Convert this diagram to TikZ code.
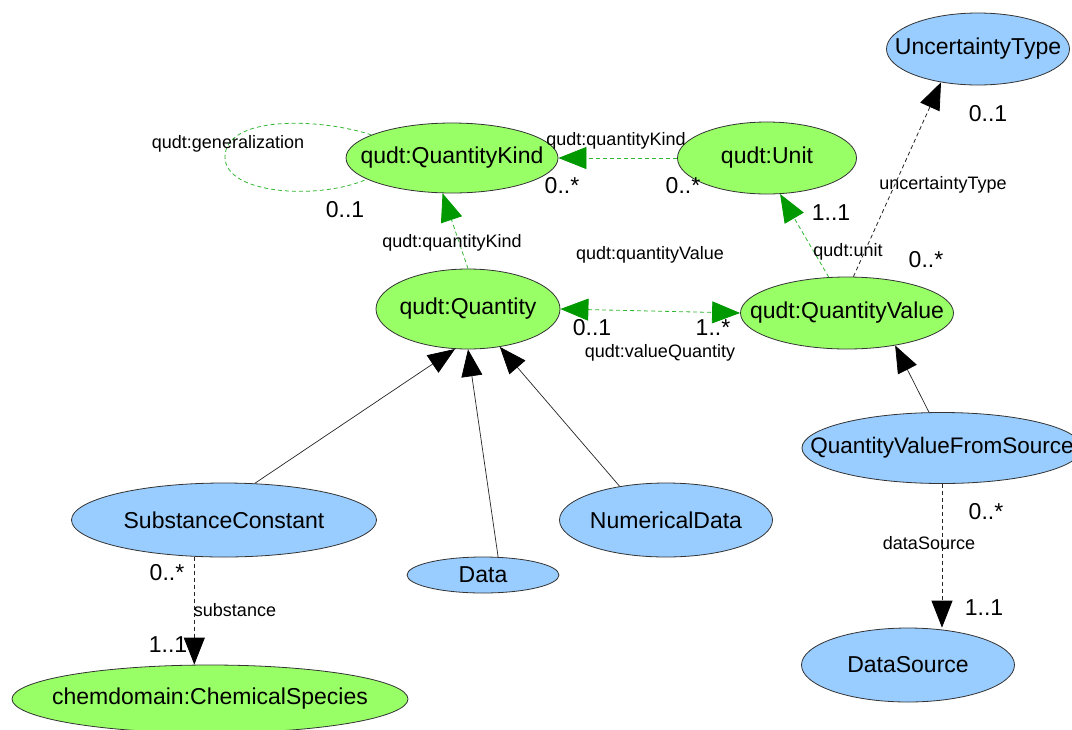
\documentclass[tikz,border=0pt]{standalone}
\usepackage{fontspec}
\setmainfont{Liberation Sans}
\usetikzlibrary{shapes.geometric,arrows.meta,calc}
\definecolor{gfill}{HTML}{99FF66}
\definecolor{bfill}{HTML}{99CCFF}
\definecolor{garr}{HTML}{009900}
\definecolor{gline}{HTML}{33B833}
\definecolor{outl}{HTML}{333333}
\newcommand{\nt}[1]{\makebox[0pt][c]{#1}}
\begin{document}
\begin{tikzpicture}[x=1pt,y=-1pt,
  cls/.style={ellipse,draw=outl,line width=0.8pt,inner sep=0pt,font=\fontsize{23}{23}\selectfont},
  gcls/.style={cls,fill=gfill},
  bcls/.style={cls,fill=bfill},
  lbl/.style={font=\fontsize{18}{18}\selectfont,inner sep=0pt},
  mult/.style={font=\fontsize{23}{23}\selectfont,inner sep=0pt},
  gdash/.style={draw=gline,line width=0.8pt,dash pattern=on 4pt off 3pt},
  kdash/.style={draw=black!85,line width=0.8pt,dash pattern=on 4pt off 3pt},
  solidln/.style={draw=black!85,line width=0.7pt},
  gtip/.style={-{Triangle[length=28pt,width=22pt,color=garr]}},
  gboth/.style={{Triangle[length=28pt,width=22pt,color=garr]}-{Triangle[length=28pt,width=22pt,color=garr]}},
  ktip/.style={-{Triangle[length=27pt,width=21pt,color=black]}}
]
\useasboundingbox[fill=white] (0,0) rectangle (1072,729);

% nodes
\node[bcls,minimum width=183pt,minimum height=72pt] (ut) at (978,49) {\nt{UncertaintyType}};
\node[gcls,minimum width=212pt,minimum height=70pt] (qk) at (452,158) {\nt{qudt:QuantityKind}};
\node[gcls,minimum width=179pt,minimum height=72pt] (unit) at (767,158) {\nt{qudt:Unit}};
\node[gcls,minimum width=184pt,minimum height=80pt] (q) at (468,309) {\nt{qudt:Quantity}};
\node[gcls,minimum width=213pt,minimum height=72pt] (qv) at (847,313) {\nt{qudt:QuantityValue}};
\node[bcls,minimum width=280pt,minimum height=71pt,font=\fontsize{22.5}{23}\selectfont] (qvfs) at (942,448) {\nt{QuantityValueFromSource}};
\node[bcls,minimum width=213pt,minimum height=74pt] (ds) at (908,665) {\nt{DataSource}};
\node[bcls,minimum width=305pt,minimum height=74pt] (sc) at (224,520) {\nt{SubstanceConstant}};
\node[bcls,minimum width=152pt,minimum height=36pt] (data) at (483,575) {\nt{Data}};
\node[bcls,minimum width=213pt,minimum height=74pt] (nd) at (666,520) {\nt{NumericalData}};
\node[gcls,minimum width=396pt,minimum height=68pt] (chem) at (210,699) {\nt{chemdomain:ChemicalSpecies}};

% self loop generalization
\draw[gdash] (qk.164) .. controls (320,118) and (225,115) .. (225,157)
                      .. controls (225,195) and (320,200) .. (qk.194);
\node[lbl] (lgen) at (228,144) {qudt:generalization};
\node[mult] (mgen) at (345,210) {0..1};

% Unit -> QuantityKind
\draw[gdash,gtip] (unit.west) -- (qk.east);
\node[lbl] (lqk1) at (616,141) {qudt:quantityKind};
\node[mult] (mqk1a) at (562,186) {0..*};
\node[mult] (mqk1b) at (683,186) {0..*};

% Quantity -> QuantityKind
\draw[gdash,gtip] (q.north) -- (qk.255);
\node[lbl] (lqk2) at (452,243) {qudt:quantityKind};

% QuantityValue -> Unit
\draw[gdash,gtip] (qv.117) -- (unit.290);
\node[mult] (mu) at (831,213) {1..1};
\node[lbl] (lu) at (848,252) {qudt:unit};

% QuantityValue -> UncertaintyType
\draw[kdash,ktip] (qv.80) -- (ut.222);
\node[lbl] (lut) at (943,185) {uncertaintyType};
\node[mult] (mut1) at (988,114) {0..1};
\node[mult] (mut2) at (926,260) {0..*};

% Quantity <-> QuantityValue
\draw[gdash,gboth] (q.east) -- (qv.west);
\node[lbl] (lqv) at (650,255) {qudt:quantityValue};
\node[lbl] (lvq) at (660,353) {qudt:valueQuantity};
\node[mult] (mq1) at (592,328) {0..1};
\node[mult] (mq2) at (713,328) {1..*};

% generalisations to Quantity
\draw[solidln,ktip] (sc.50) -- (q.252);
\draw[solidln,ktip] (data.50) -- (q.270);
\draw[solidln,ktip] (nd.144) -- (q.310);

% QuantityValueFromSource -> QuantityValue
\draw[solidln,ktip] (qvfs.110) -- (qv.326);

% substance
\draw[kdash,ktip] (sc.231) -- (sc.231 |- chem.north);
\node[mult] (ms1) at (167,573) {0..*};
\node[lbl] (ls) at (235,610) {substance};
\node[mult] (ms2) at (168,645) {1..1};

% dataSource
\draw[kdash,ktip] (qvfs.south) -- (qvfs.south |- ds.north);
\node[mult] (md1) at (986,512) {0..*};
\node[lbl] (ld) at (929,543) {dataSource};
\node[mult] (md2) at (984,608) {1..1};
\end{tikzpicture}
\end{document}
